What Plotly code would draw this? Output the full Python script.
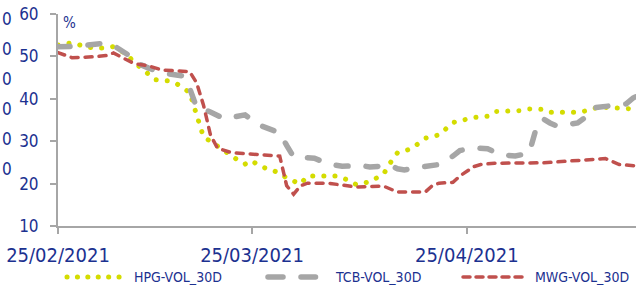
import plotly.graph_objects as go

# ---------------- data ----------------
hpg_dates = ["2021-02-25","2021-02-27","2021-03-01","2021-03-02","2021-03-04","2021-03-05","2021-03-07",
             "2021-03-08","2021-03-09","2021-03-10","2021-03-11","2021-03-13","2021-03-14","2021-03-16",
             "2021-03-17","2021-03-18","2021-03-19","2021-03-20","2021-03-21","2021-03-23","2021-03-24",
             "2021-03-25","2021-03-26","2021-03-28","2021-03-29","2021-03-30","2021-04-01","2021-04-02",
             "2021-04-04","2021-04-06","2021-04-08","2021-04-09","2021-04-11","2021-04-12","2021-04-13",
             "2021-04-14","2021-04-15","2021-04-17","2021-04-18","2021-04-19","2021-04-21","2021-04-22",
             "2021-04-23","2021-04-25","2021-04-26","2021-04-28","2021-04-29","2021-05-01","2021-05-03",
             "2021-05-04","2021-05-06","2021-05-07","2021-05-09","2021-05-11","2021-05-12","2021-05-14",
             "2021-05-16","2021-05-18","2021-05-20"]
hpg_vals = [52.7,53.2,52.3,52.0,52.0,52.3,50.4,
            48.5,47.3,45.9,44.5,44.2,43.7,41.5,
            36.3,31.0,30.0,28.9,27.5,25.5,24.6,
            25.4,24.2,23.0,22.5,21.3,19.9,21.8,
            21.8,21.8,20.8,19.8,20.4,21.2,22.3,
            25.0,27.3,28.2,29.6,30.7,31.5,32.8,
            34.4,35.2,35.6,35.9,37.0,37.1,37.2,
            37.6,37.5,36.8,36.7,36.8,37.1,38.0,
            37.9,37.6,37.5]

tcb_dates = ["2021-02-25","2021-02-28","2021-03-03","2021-03-05","2021-03-07","2021-03-08","2021-03-10",
             "2021-03-12","2021-03-15","2021-03-16","2021-03-17","2021-03-19","2021-03-21","2021-03-23",
             "2021-03-24","2021-03-26","2021-03-29","2021-03-30","2021-03-31","2021-04-03","2021-04-05",
             "2021-04-07","2021-04-10","2021-04-11","2021-04-14","2021-04-15","2021-04-16","2021-04-18",
             "2021-04-20","2021-04-21","2021-04-23","2021-04-24","2021-04-26","2021-04-28","2021-04-29",
             "2021-04-30","2021-05-02","2021-05-04","2021-05-05","2021-05-06","2021-05-07","2021-05-08",
             "2021-05-11","2021-05-12","2021-05-13","2021-05-16","2021-05-18","2021-05-19","2021-05-20"]
tcb_vals = [52.3,52.4,53.0,52.6,50.5,48.7,47.3,
            46.1,45.4,42.5,38.0,36.9,35.3,35.8,
            36.2,33.8,32.0,29.0,26.3,26.0,24.6,
            24.1,24.2,23.9,24.3,23.5,23.2,23.8,
            24.2,24.5,26.5,27.8,28.4,28.2,27.5,
            26.8,26.5,27.2,33.0,35.3,34.3,33.6,
            34.3,35.5,37.8,38.5,38.8,40.2,41.0]

mwg_dates = ["2021-02-25","2021-02-27","2021-03-02","2021-03-04","2021-03-05","2021-03-07","2021-03-08",
             "2021-03-10","2021-03-12","2021-03-14","2021-03-16","2021-03-17","2021-03-18","2021-03-19",
             "2021-03-20","2021-03-22","2021-03-25","2021-03-27","2021-03-29","2021-03-30","2021-03-31",
             "2021-04-01","2021-04-02","2021-04-05","2021-04-07","2021-04-09","2021-04-13","2021-04-15",
             "2021-04-19","2021-04-20","2021-04-21","2021-04-23","2021-04-24","2021-04-26","2021-04-27",
             "2021-04-29","2021-05-06","2021-05-10","2021-05-14","2021-05-15","2021-05-17","2021-05-20"]
mwg_vals = [50.9,49.7,49.9,50.2,50.8,49.2,48.3,
            47.8,46.8,46.6,46.4,43.8,38.5,31.5,
            28.4,27.3,27.0,26.6,26.5,19.5,17.5,
            19.5,20.1,20.1,19.6,19.2,19.4,18.0,
            18.0,19.5,20.1,20.3,21.8,24.0,24.5,
            24.8,24.9,25.4,25.8,25.9,24.5,24.1]

series_names = ["HPG-VOL_30D", "TCB-VOL_30D", "MWG-VOL_30D"]
x_tickvals = ["2021-02-25", "2021-03-25", "2021-04-25"]
x_ticktext = ["25/02/2021", "25/03/2021", "25/04/2021"]
y_tickvals = [10, 20, 30, 40, 50, 60]
ghost_labels = ["0", "0", "0", "0", "0", "0"]

# ---------------- style ----------------
YELLOW = "#D4DC00"
GRAY = "#A6A6A6"
RED = "#C0504D"
BLUE = "#1C3190"
FONT = "DejaVu Sans Condensed, DejaVu Sans, sans-serif"

W, H = 636, 287
ML, MR, MT, MB = 58, 0, 14, 61
PW, PH = W - ML - MR, H - MT - MB


def px(xp):
    return (xp - ML) / PW


def py(yp):
    return (H - MB - yp) / PH


fig = go.Figure()
fig.add_trace(go.Scatter(x=hpg_dates, y=hpg_vals, mode="lines", name=series_names[0],
                         line=dict(color=YELLOW, width=5, dash="0.1px,11px"), showlegend=False))
fig.add_trace(go.Scatter(x=tcb_dates, y=tcb_vals, mode="lines", name=series_names[1],
                         line=dict(color=GRAY, width=5.5, dash="12px,18px"), showlegend=False))
fig.add_trace(go.Scatter(x=mwg_dates, y=mwg_vals, mode="lines", name=series_names[2],
                         line=dict(color=RED, width=3.5, dash="7px,7px"), showlegend=False))

shapes = []
annotations = []
ly = py(277)
# legend: HPG
shapes.append(dict(type="line", xref="paper", yref="paper", x0=px(67), x1=px(129), y0=ly, y1=ly,
                   line=dict(color=YELLOW, width=5, dash="0.1px,10.3px")))
# legend: TCB (two dashes)
shapes.append(dict(type="line", xref="paper", yref="paper", x0=px(268), x1=px(283), y0=ly, y1=ly,
                   line=dict(color=GRAY, width=5.5)))
shapes.append(dict(type="line", xref="paper", yref="paper", x0=px(301), x1=px(315.5), y0=ly, y1=ly,
                   line=dict(color=GRAY, width=5.5)))
# legend: MWG
shapes.append(dict(type="line", xref="paper", yref="paper", x0=px(463), x1=px(526), y0=ly, y1=ly,
                   line=dict(color=RED, width=3.5, dash="7px,6px")))

for name, xt in zip(series_names, [132, 333, 533]):
    annotations.append(dict(text=name, xref="paper", yref="paper", x=px(xt), y=ly,
                            xanchor="left", yanchor="middle", showarrow=False,
                            font=dict(family=FONT, size=14, color=BLUE)))

annotations.append(dict(text="%", xref="paper", yref="paper", x=px(61), y=py(23),
                        xanchor="left", yanchor="middle", showarrow=False,
                        font=dict(family=FONT, size=15, color=BLUE)))

# tick-label remnants of a neighbouring chart at the far left edge
for i, t in enumerate(ghost_labels):
    annotations.append(dict(text=t, xref="paper", yref="paper", x=px(0), y=py(19 + 30 * i),
                            xanchor="left", yanchor="middle", showarrow=False,
                            font=dict(family=FONT, size=17, color=BLUE)))

fig.update_layout(
    width=W, height=H,
    margin=dict(l=ML, r=MR, t=MT, b=MB, pad=0, autoexpand=False),
    paper_bgcolor="white", plot_bgcolor="white",
    font=dict(family=FONT, color=BLUE),
    shapes=shapes, annotations=annotations,
    showlegend=False,
)
fig.update_xaxes(type="date", range=["2021-02-25", "2021-05-19 10:00"], automargin=False,
                 tickmode="array", tickvals=x_tickvals, ticktext=x_ticktext,
                 showgrid=False, zeroline=False, showline=True, linecolor=GRAY, linewidth=2,
                 ticks="outside", ticklen=6, tickwidth=1.5, tickcolor=GRAY,
                 tickfont=dict(family=FONT, size=20, color=BLUE), ticklabelstandoff=4)
fig.update_yaxes(range=[10, 60], tickmode="array", tickvals=y_tickvals, automargin=False,
                 showgrid=False, zeroline=False, showline=True, linecolor=GRAY, linewidth=2,
                 ticks="outside", ticklen=6, tickwidth=1.5, tickcolor=GRAY,
                 tickfont=dict(family=FONT, size=17, color=BLUE), ticklabelstandoff=8)

post = """
(function(){
  document.body.style.margin = '0';
  document.body.style.padding = '0';
  document.documentElement.style.overflow = 'hidden';
  function fix(){
    document.querySelectorAll('.scatterlayer path.js-line, .shapelayer path').forEach(function(p){
      p.style.strokeLinecap = 'round';
    });
  }
  fix();
  setTimeout(fix, 50);
})();
"""
fig.write_html("out.html", post_script=post, config={"displayModeBar": False})
